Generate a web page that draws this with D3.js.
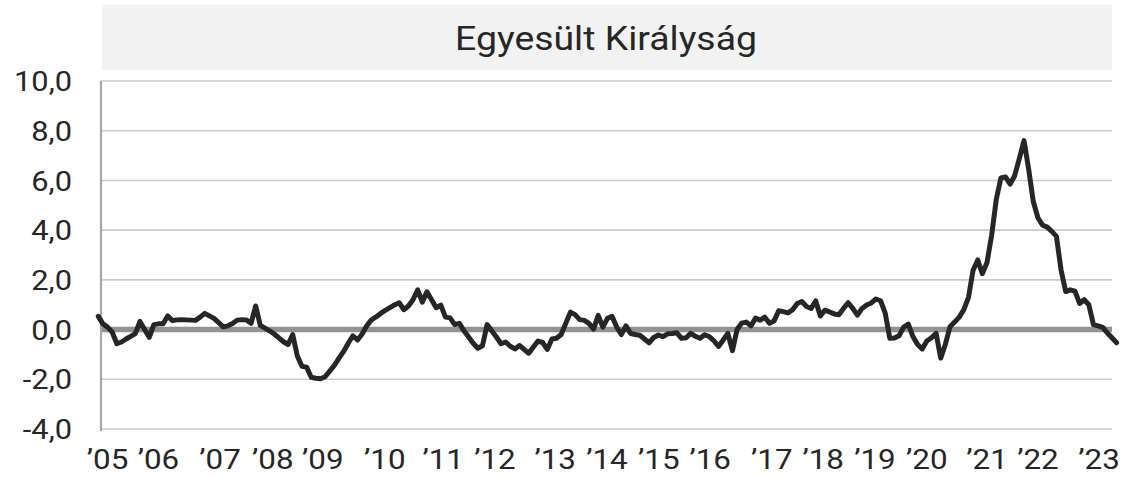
<!DOCTYPE html>
<html>
<head>
<meta charset="utf-8">
<script src="https://cdn.jsdelivr.net/npm/d3@7/dist/d3.min.js"></script>
<style>
  body { margin: 0; background: #fff; }
  text { font-family: Roboto, "Liberation Sans", sans-serif; fill: #262626; }
</style>
</head>
<body>
<svg id="chart" width="1122" height="477"></svg>
<script>
/* Data */
const TITLE = 'Egyesült Királyság';

// monthly values, 2005 Jan .. 2023 May
const values = [
  0.53, 0.23, 0.1, -0.1, -0.57, -0.5, -0.38, -0.27, -0.16, 0.33,
  0.0, -0.31, 0.2, 0.23, 0.23, 0.55, 0.36, 0.39, 0.4, 0.39,
  0.38, 0.37, 0.5, 0.65, 0.55, 0.45, 0.28, 0.11, 0.15, 0.24,
  0.38, 0.4, 0.39, 0.25, 0.95, 0.17, 0.06, -0.05, -0.18, -0.33,
  -0.49, -0.6, -0.2, -1.06, -1.48, -1.51, -1.92, -1.96, -1.98, -1.9,
  -1.67, -1.44, -1.15, -0.88, -0.55, -0.25, -0.42, -0.18, 0.15, 0.39,
  0.51, 0.65, 0.77, 0.88, 0.99, 1.08, 0.8, 0.95, 1.2, 1.6,
  1.1, 1.52, 1.2, 0.88, 0.98, 0.5, 0.47, 0.2, 0.25, -0.05,
  -0.3, -0.55, -0.75, -0.65, 0.2, -0.05, -0.3, -0.57, -0.5, -0.67,
  -0.78, -0.64, -0.8, -0.95, -0.7, -0.46, -0.52, -0.8, -0.38, -0.35,
  -0.2, 0.25, 0.7, 0.6, 0.4, 0.37, 0.25, 0.02, 0.57, 0.1,
  0.45, 0.53, 0.1, -0.2, 0.15, -0.16, -0.2, -0.23, -0.38, -0.53,
  -0.32, -0.22, -0.28, -0.17, -0.16, -0.13, -0.35, -0.33, -0.15, -0.27,
  -0.35, -0.21, -0.28, -0.45, -0.68, -0.42, -0.15, -0.85, 0.0, 0.26,
  0.3, 0.15, 0.46, 0.38, 0.5, 0.25, 0.35, 0.76, 0.72, 0.67,
  0.8, 1.05, 1.13, 0.93, 0.85, 1.15, 0.55, 0.78, 0.71, 0.63,
  0.6, 0.85, 1.08, 0.85, 0.58, 0.85, 0.99, 1.07, 1.23, 1.16,
  0.67, -0.35, -0.34, -0.25, 0.1, 0.22, -0.28, -0.6, -0.78, -0.46,
  -0.33, -0.15, -1.15, -0.6, 0.11, 0.3, 0.5, 0.8, 1.3, 2.39,
  2.8, 2.25, 2.7, 3.79, 5.23, 6.1, 6.14, 5.85, 6.2, 6.89,
  7.6, 6.45, 5.15, 4.5, 4.2, 4.12, 3.95, 3.75, 2.4, 1.53,
  1.6, 1.55, 1.05, 1.2, 1.0, 0.2, 0.15, 0.09, -0.14, -0.33,
  -0.53
];

// x axis labels and the month index they sit under
const xLabels = ["’05", "’06", "’07", "’08", "’09", "’10", "’11", "’12", "’13", "’14",
                 "’15", "’16", "’17", "’18", "’19", "’20", "’21", "’22", "’23"];
const xLabelIdx = [2, 13, 26.3, 37.7, 48.5, 61.9, 74.5, 85.7, 98.7, 109.9,
                   121.1, 132.2, 145.5, 156.6, 167.8, 179, 192, 203, 216.2];

const yTicks = [-4, -2, 0, 2, 4, 6, 8, 10];

/* Layout */
const plot = { left: 101, right: 1112, top: 81, bottom: 429 };
const stretch = 1.1;   // text in the original is slightly wide

const svg = d3.select('#chart');

const x = d3.scaleLinear()
  .domain([0, values.length - 1])
  .range([98.3, 1116.6]);
const y = d3.scaleLinear()
  .domain([-4, 10])
  .range([plot.bottom, plot.top]);

const fmt = d3.formatLocale({
  decimal: ',', thousands: ' ', grouping: [3], currency: ['', ''], minus: '-'
}).format('.1f');

/* Title banner */
svg.append('rect')
  .attr('x', 102).attr('y', 5)
  .attr('width', 1112 - 102).attr('height', 65)
  .attr('fill', '#f2f2f2');

svg.append('text')
  .attr('transform', `translate(606,50) scale(${stretch},1)`)
  .attr('text-anchor', 'middle')
  .style('font-size', '34px')
  .text(TITLE);

/* Grid */
svg.append('g')
  .selectAll('line')
  .data(yTicks.filter(d => d !== 0))
  .enter().append('line')
  .attr('x1', plot.left).attr('x2', plot.right)
  .attr('y1', d => y(d)).attr('y2', d => y(d))
  .attr('stroke', '#cbcbcb')
  .attr('stroke-width', 1.6);

svg.append('line')
  .attr('x1', plot.left).attr('x2', plot.right)
  .attr('y1', y(0)).attr('y2', y(0))
  .attr('stroke', '#929292')
  .attr('stroke-width', 5.5);

svg.append('line')
  .attr('x1', plot.left).attr('x2', plot.left)
  .attr('y1', plot.top).attr('y2', plot.bottom + 2)
  .attr('stroke', '#a6a6a6')
  .attr('stroke-width', 2.2);

/* Y labels */
svg.append('g')
  .selectAll('text')
  .data(yTicks)
  .enter().append('text')
  .attr('transform', d => `translate(72,${y(d)}) scale(${stretch},1)`)
  .attr('dy', '0.36em')
  .attr('text-anchor', 'end')
  .style('font-size', '28px')
  .text(d => fmt(d));

/* X labels */
svg.append('g')
  .selectAll('text')
  .data(xLabels)
  .enter().append('text')
  .attr('transform', (d, i) => `translate(${x(xLabelIdx[i])},469) scale(${stretch},1)`)
  .attr('text-anchor', 'middle')
  .style('font-size', '28.5px')
  .text(d => d);

/* Line */
const line = d3.line()
  .x((d, i) => x(i))
  .y(d => y(d));

svg.append('path')
  .datum(values)
  .attr('d', line)
  .attr('fill', 'none')
  .attr('stroke', '#262626')
  .attr('stroke-width', 5)
  .attr('stroke-linejoin', 'round')
  .attr('stroke-linecap', 'round');
</script>
</body>
</html>
